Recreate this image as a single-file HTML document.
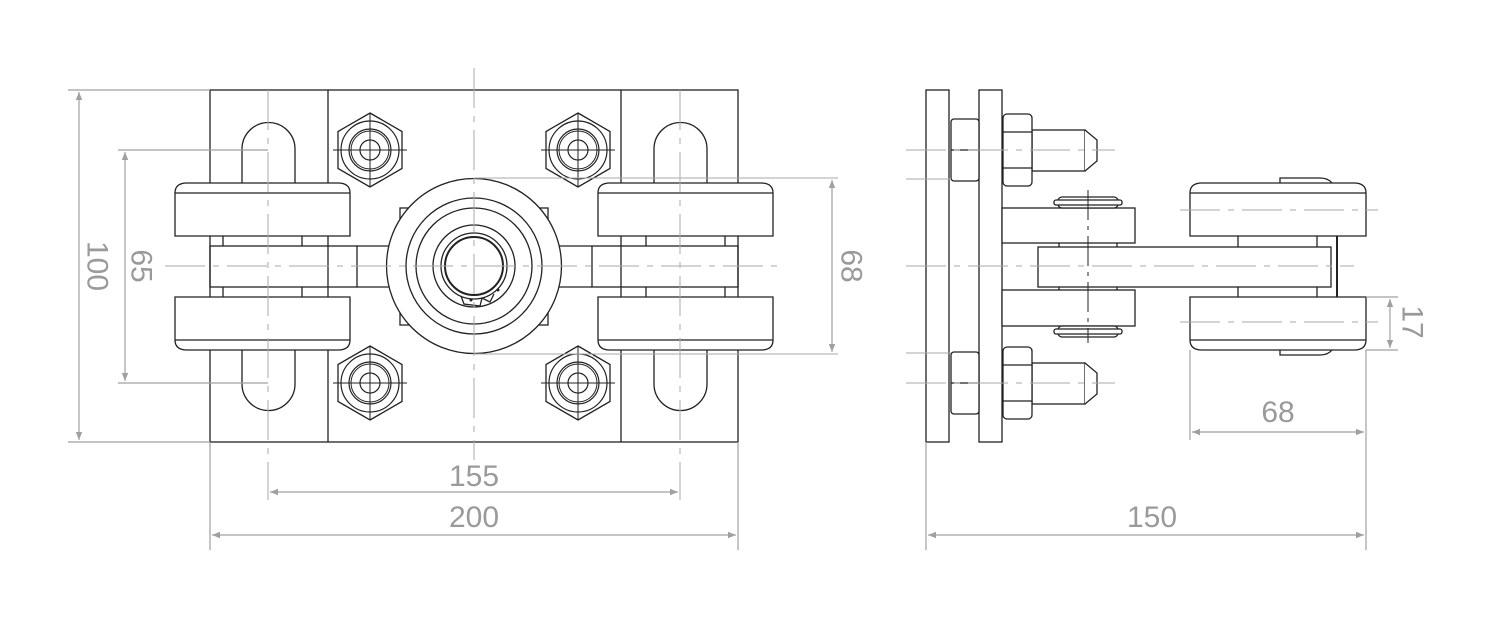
<!DOCTYPE html>
<html><head><meta charset="utf-8"><style>
html,body{margin:0;padding:0;background:#fff;}
svg{display:block;}
text{font-family:"Liberation Sans",sans-serif;fill:#9a9a9a;font-size:30px;}
</style></head><body>
<svg width="1495" height="618" viewBox="0 0 1495 618" xmlns="http://www.w3.org/2000/svg">
<defs>
<marker id="a" viewBox="0 0 10 10" refX="10" refY="5" markerWidth="14" markerHeight="8" orient="auto-start-reverse" markerUnits="userSpaceOnUse"><path d="M0,1 L10,5 L0,9 z" fill="#a0a0a0"/></marker>
<g id="nut">
<polygon points="0,-37 32,-18.5 32,18.5 0,37 -32,18.5 -32,-18.5" fill="#fff" stroke="#222" stroke-width="1.3"/>
<circle r="29" fill="none" stroke="#222" stroke-width="1.2"/>
<circle r="21" fill="none" stroke="#222" stroke-width="1.2"/>
<circle r="19" fill="none" stroke="#222" stroke-width="1"/>
<circle r="10" fill="none" stroke="#222" stroke-width="1.2"/>
<line x1="-37" y1="0" x2="37" y2="0" stroke="#222" stroke-width="1"/>
<line x1="0" y1="-37" x2="0" y2="37" stroke="#222" stroke-width="1"/>
</g>
<g id="roller">
<path d="M175,236 V193 Q175,183 187,183 H338 Q350,183 350,193 V236 Z" fill="#fff" stroke="#222" stroke-width="1.3"/>
<line x1="175" y1="193" x2="350" y2="193" stroke="#222" stroke-width="1.3"/>
</g>
</defs>

<g stroke="#222" stroke-width="1.3" fill="none">
<!-- front plate -->
<rect x="210" y="90" width="528" height="352" fill="#fff"/>
<line x1="328" y1="90" x2="328" y2="442"/>
<line x1="621" y1="90" x2="621" y2="442"/>
<!-- slots -->
<path d="M242,183 V149 A26.5,26.5 0 0 1 295,149 V183"/>
<path d="M242,350 V384 A26.5,26.5 0 0 0 295,384 V350"/>
<path d="M654,183 V149 A26.5,26.5 0 0 1 707,149 V183"/>
<path d="M654,350 V384 A26.5,26.5 0 0 0 707,384 V350"/>
<!-- spacers -->
<line x1="223" y1="236" x2="223" y2="246"/><line x1="302" y1="236" x2="302" y2="246"/>
<line x1="223" y1="287" x2="223" y2="297"/><line x1="302" y1="287" x2="302" y2="297"/>
<line x1="646" y1="236" x2="646" y2="246"/><line x1="725" y1="236" x2="725" y2="246"/>
<line x1="646" y1="287" x2="646" y2="297"/><line x1="725" y1="287" x2="725" y2="297"/>
<!-- bars -->
<rect x="210" y="246" width="147" height="41"/>
<line x1="357" y1="246" x2="390" y2="246"/><line x1="357" y1="287" x2="390" y2="287"/>
<rect x="592" y="246" width="146" height="41"/>
<line x1="558" y1="246" x2="592" y2="246"/><line x1="558" y1="287" x2="592" y2="287"/>
<!-- square -->
<rect x="400" y="208" width="148" height="117"/>
<!-- bearing -->
<circle cx="474" cy="266" r="87.5" fill="#fff"/>
<circle cx="474" cy="266" r="68"/>
<circle cx="474" cy="266" r="58"/>
<circle cx="474" cy="266" r="41"/>
<circle cx="474" cy="266" r="33"/>
<circle cx="474" cy="266" r="29" stroke-width="2"/>
<path d="M461,296 L464,304 L480,306 L482,298 M482,298 L490,302 L494,294"/>
</g>
<circle cx="471" cy="300" r="1.5" fill="#222"/><circle cx="498" cy="290" r="1.5" fill="#222"/>
<use href="#roller"/>
<use href="#roller" transform="translate(0,533) scale(1,-1)"/>
<use href="#roller" transform="translate(423,0)"/>
<use href="#roller" transform="translate(423,533) scale(1,-1)"/>
<use href="#nut" x="370" y="150"/><use href="#nut" x="578" y="150"/>
<use href="#nut" x="370" y="383"/><use href="#nut" x="578" y="383"/>

<!-- centerlines front -->
<g stroke="#aaa" stroke-width="1" fill="none">
<line x1="474" y1="68" x2="474" y2="460" stroke-dasharray="40,8,6,8"/>
<line x1="165" y1="266" x2="785" y2="266" stroke-dasharray="40,8,6,8"/>
<line x1="268" y1="90" x2="268" y2="500" stroke-dasharray="40,8,6,8"/>
<line x1="680" y1="90" x2="680" y2="500" stroke-dasharray="40,8,6,8"/>
<line x1="474" y1="178" x2="838" y2="178"/>
<line x1="474" y1="354" x2="838" y2="354"/>
</g>

<!-- dims front -->
<g stroke="#a0a0a0" stroke-width="1.2" fill="none">
<line x1="68" y1="90" x2="210" y2="90"/><line x1="68" y1="442" x2="210" y2="442"/>
<line x1="79" y1="92" x2="79" y2="440" marker-start="url(#a)" marker-end="url(#a)"/>
<line x1="118" y1="150" x2="268" y2="150"/><line x1="118" y1="383" x2="268" y2="383"/>
<line x1="125" y1="152" x2="125" y2="381" marker-start="url(#a)" marker-end="url(#a)"/>
<line x1="832" y1="180" x2="832" y2="352" marker-start="url(#a)" marker-end="url(#a)"/>
<line x1="210" y1="442" x2="210" y2="550"/><line x1="738" y1="442" x2="738" y2="550"/>
<line x1="270" y1="492" x2="678" y2="492" marker-start="url(#a)" marker-end="url(#a)"/>
<line x1="212" y1="535" x2="736" y2="535" marker-start="url(#a)" marker-end="url(#a)"/>
</g>
<text x="97" y="266" text-anchor="middle" dominant-baseline="central" transform="rotate(90 97 266)">100</text>
<text x="141" y="266" text-anchor="middle" dominant-baseline="central" transform="rotate(90 141 266)">65</text>
<text x="851" y="266" text-anchor="middle" dominant-baseline="central" transform="rotate(90 851 266)">68</text>
<text x="474" y="486" text-anchor="middle">155</text>
<text x="474" y="527" text-anchor="middle">200</text>

<!-- side view -->
<g stroke="#222" stroke-width="1.3" fill="#fff">
<rect x="926" y="90" width="23" height="352"/>
<rect x="979" y="90" width="23" height="352"/>
<!-- upper nuts/bolt -->
<rect x="1032" y="130" width="53" height="41"/>
<path d="M1085,130 L1097,140 V161 L1085,171"/>
<rect x="951" y="119" width="28" height="62" rx="3"/>
<line x1="951" y1="150" x2="979" y2="150"/>
<rect x="1003" y="114" width="29" height="72" rx="4"/>
<line x1="1003" y1="132" x2="1032" y2="132"/><line x1="1003" y1="168" x2="1032" y2="168"/>
<!-- lower -->
<rect x="1032" y="363" width="53" height="41"/>
<path d="M1085,363 L1097,373 V394 L1085,404"/>
<rect x="951" y="352" width="28" height="62" rx="3"/>
<line x1="951" y1="383" x2="979" y2="383"/>
<rect x="1003" y="347" width="29" height="72" rx="4"/>
<line x1="1003" y1="365" x2="1032" y2="365"/><line x1="1003" y1="401" x2="1032" y2="401"/>
<!-- clevis -->
<rect x="1002" y="208" width="133" height="35"/>
<rect x="1002" y="290" width="133" height="36"/>
<rect x="1058" y="197" width="60" height="11" rx="4"/>
<rect x="1054" y="200" width="68" height="5" rx="2"/>
<rect x="1058" y="326" width="60" height="11" rx="4"/>
<rect x="1054" y="329" width="68" height="5" rx="2"/>
<line x1="1059" y1="243" x2="1059" y2="247"/><line x1="1117" y1="243" x2="1117" y2="247"/>
<line x1="1059" y1="287" x2="1059" y2="290"/><line x1="1117" y1="287" x2="1117" y2="290"/>
<!-- roller axle/spacers -->
<line x1="1238" y1="236" x2="1238" y2="297"/><line x1="1317" y1="236" x2="1317" y2="297"/>
<line x1="1337" y1="236" x2="1337" y2="297" stroke-width="2"/>
<rect x="1038" y="247" width="293" height="40"/>
<path d="M1280,183 V178 H1320 Q1328,178 1332,183"/>
<path d="M1280,350 V355 H1320 Q1328,355 1332,350"/>
<path d="M1190,236 V193 Q1190,183 1202,183 H1354 Q1366,183 1366,193 V236 Z"/>
<line x1="1190" y1="193" x2="1366" y2="193"/>
<path d="M1190,297 V340 Q1190,350 1202,350 H1354 Q1366,350 1366,340 V297 Z"/>
<line x1="1190" y1="340" x2="1366" y2="340"/>
</g>
<line x1="1088" y1="190" x2="1088" y2="343" stroke="#222" stroke-width="1" stroke-dasharray="30,6,4,6"/>
<g stroke="#aaa" stroke-width="1" fill="none" stroke-dasharray="40,8,6,8">
<line x1="906" y1="150" x2="1115" y2="150"/>
<line x1="906" y1="383" x2="1115" y2="383"/>
<line x1="906" y1="266" x2="1354" y2="266"/>
<line x1="1180" y1="210" x2="1378" y2="210"/>
<line x1="1180" y1="322" x2="1378" y2="322"/>
</g>
<g stroke="#aaa" stroke-width="1" fill="none">
<line x1="906" y1="179" x2="951" y2="179"/>
<line x1="906" y1="353" x2="951" y2="353"/>
</g>
<g stroke="#a0a0a0" stroke-width="1.2" fill="none">
<line x1="926" y1="442" x2="926" y2="550"/><line x1="1366" y1="350" x2="1366" y2="550"/>
<line x1="1190" y1="350" x2="1190" y2="440"/>
<line x1="1366" y1="297" x2="1398" y2="297"/><line x1="1366" y1="350" x2="1398" y2="350"/>
<line x1="1390" y1="299" x2="1390" y2="348" marker-start="url(#a)" marker-end="url(#a)"/>
<line x1="1192" y1="432" x2="1364" y2="432" marker-start="url(#a)" marker-end="url(#a)"/>
<line x1="928" y1="535" x2="1364" y2="535" marker-start="url(#a)" marker-end="url(#a)"/>
</g>
<text x="1412" y="322" text-anchor="middle" dominant-baseline="central" transform="rotate(90 1412 322)">17</text>
<text x="1278" y="422" text-anchor="middle">68</text>
<text x="1152" y="527" text-anchor="middle">150</text>
</svg>
</body></html>
